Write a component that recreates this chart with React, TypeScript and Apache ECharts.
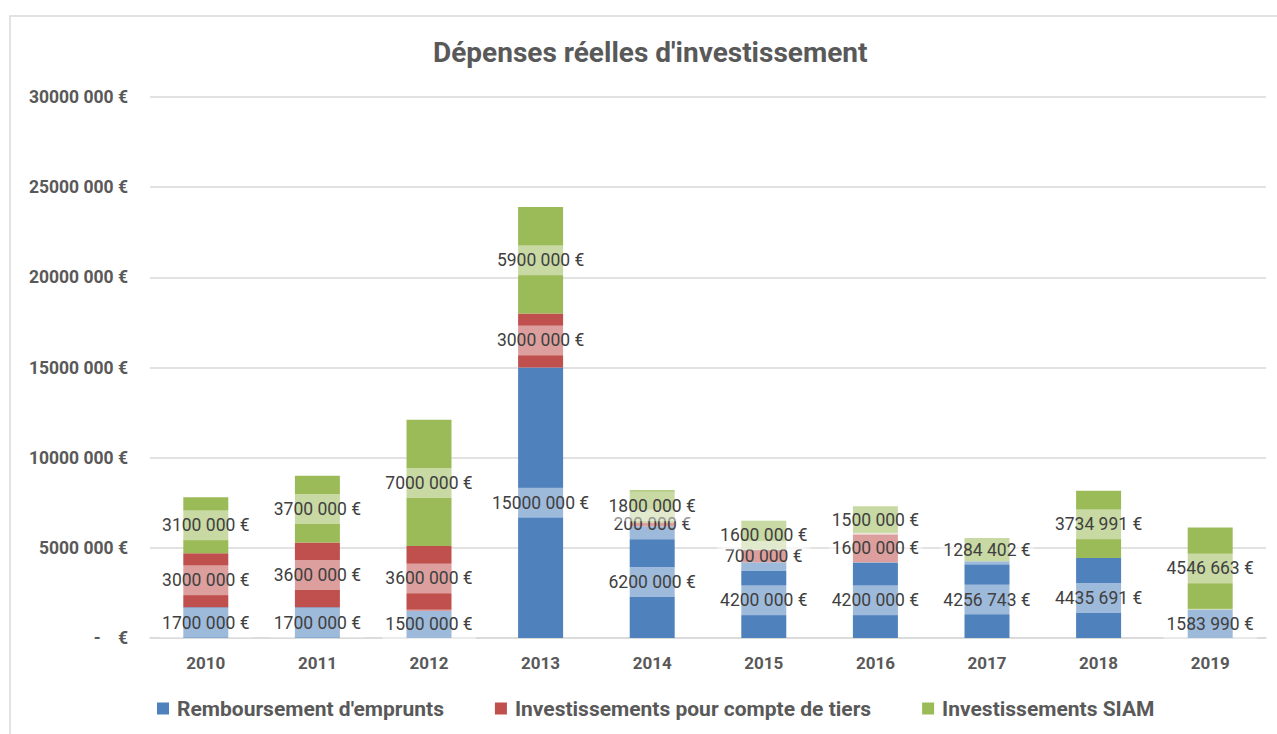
import React, { useEffect, useRef } from "react";
import * as echarts from "echarts";

const years = ["2010", "2011", "2012", "2013", "2014", "2015", "2016", "2017", "2018", "2019"];
const remboursement = [1700000, 1700000, 1500000, 15000000, 6200000, 4200000, 4200000, 4256743, 4435691, 1583990];
const tiers = [3000000, 3600000, 3600000, 3000000, 200000, 700000, 1600000, 0, 0, 0];
const siam = [3100000, 3700000, 7000000, 5900000, 1800000, 1600000, 1500000, 1284402, 3734991, 4546663];
const seriesNames = ["Remboursement d'emprunts", "Investissements pour compte de tiers", "Investissements SIAM"];
const colors = ["#4f81bd", "#c0504d", "#9bbb59"];
const titleText = "Dépenses réelles d'investissement";

const FONT = "Roboto, 'Liberation Sans', sans-serif";

function fmt(v: number): string {
  const th = Math.floor(v / 1000);
  const rest = String(v % 1000).padStart(3, "0");
  return th + " " + rest + " €";
}

function axisFmt(v: number): string {
  if (v === 0) return "-\u00a0\u00a0\u00a0\u00a0€";
  return fmt(v);
}

export default function App() {
  const ref = useRef<HTMLDivElement>(null);
  useEffect(() => {
    document.body.style.margin = "0";
    const chart = echarts.init(ref.current!, null, { renderer: "svg" });
    const allSeries = [remboursement, tiers, siam].map((vals, i) => ({
      name: seriesNames[i],
      type: "bar",
      stack: "total",
      barWidth: 45,
      itemStyle: { color: colors[i] },
      label: {
        show: true,
        position: "inside",
        formatter: (p: any) => fmt(p.value),
        color: "#404040",
        fontFamily: FONT,
        fontSize: 17.5,
        lineHeight: 18,
        backgroundColor: "rgba(255,255,255,0.45)",
        padding: [6, 3],
      },
      data: vals.map((v) => ({ value: v, label: { show: v > 0 } })),
    }));
    chart.setOption({
      animation: false,
      textStyle: { fontFamily: FONT },
      title: {
        text: titleText,
        left: 428,
        top: 33,
        textStyle: { fontFamily: FONT, fontSize: 28, fontWeight: "bold", color: "#595959" },
      },
      graphic: [
        {
          type: "rect",
          shape: { x: 10, y: 16, width: 1300, height: 760 },
          style: { fill: "none", stroke: "#d9d9d9", lineWidth: 1.5 },
          silent: true,
        },
      ],
      legend: {
        left: 152,
        top: 693,
        icon: "rect",
        itemWidth: 12,
        itemHeight: 12,
        itemGap: 51,
        textStyle: {
          fontFamily: FONT,
          fontSize: 21,
          fontWeight: "bold",
          color: "#595959",
          padding: [0, 0, 0, 3],
        },
        data: seriesNames,
      },
      grid: { left: 150, right: 11, top: 97, bottom: 96 },
      xAxis: {
        type: "category",
        data: years,
        axisLine: { lineStyle: { color: "#d9d9d9", width: 1.5 } },
        axisTick: { show: false },
        axisLabel: { fontFamily: FONT, fontSize: 17, fontWeight: "bold", color: "#595959", margin: 16 },
      },
      yAxis: {
        type: "value",
        min: 0,
        max: 30000000,
        interval: 5000000,
        axisLine: { show: false },
        axisTick: { show: false },
        splitLine: { lineStyle: { color: "#d9d9d9", width: 1.5 } },
        axisLabel: {
          formatter: axisFmt,
          fontFamily: FONT,
          fontSize: 17.5,
          fontWeight: "bold",
          color: "#595959",
          margin: 22,
        },
      },
      series: allSeries,
    });
    return () => chart.dispose();
  }, []);
  return <div ref={ref} style={{ width: 1277, height: 734 }} />;
}
